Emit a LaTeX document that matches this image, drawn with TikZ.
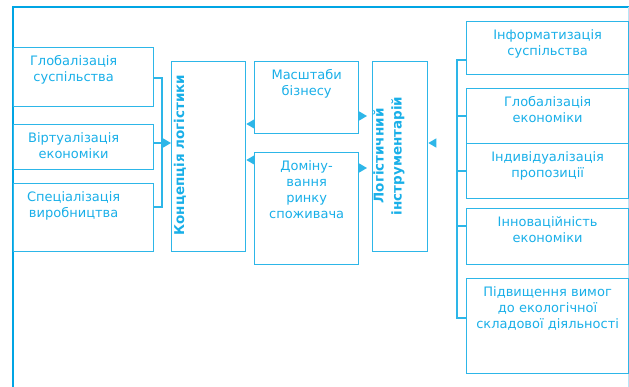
\documentclass[tikz,border=0pt]{standalone}
\usepackage{fontspec}
\setmainfont{DejaVu Sans}
\usetikzlibrary{arrows.meta}

\definecolor{lineblue}{RGB}{45,182,232}
\definecolor{frameblue}{RGB}{0,165,228}
\definecolor{textblue}{RGB}{25,175,232}

\tikzset{
  blk/.style={draw=lineblue, line width=1.3pt, inner sep=0pt, anchor=north west},
  txt/.style={text=textblue, align=center, inner sep=0pt, anchor=north,
    font=\fontsize{13}{16.3}\selectfont},
  rot/.style={text=textblue, rotate=90, align=center, inner sep=0pt,
    font=\bfseries\fontsize{13.5}{18}\selectfont},
  ln/.style={draw=lineblue, line width=1.3pt},
  arr/.style={ln, -{Triangle[length=8pt,width=9pt]}},
}
% box: name, x, y, width, height, text shift, text
\newcommand{\bx}[7]{
  \node[blk, minimum width=#4pt, minimum height=#5pt] (#1) at (#2,#3) {};
  \node[txt] (#1t) at ([xshift=#6pt, yshift=-8pt]#1.north) {#7};
}

\begin{document}
\begin{tikzpicture}[x=1pt, y=-1pt]
  \useasboundingbox (0,0) rectangle (629,387);
  % frame
  \draw[frameblue, line width=2.5pt] (13,387) -- (13,7) -- (629,7);
  \draw[lineblue!35, line width=1pt] (628.5,7) -- (628.5,387);

  % left column
  \bx{globs}{13}{47}{140}{59}{-10}{Глобалізація\\суспільства}
  \bx{virt}{13}{124}{140}{45}{-10}{Віртуалізація\\економіки}
  \bx{spec}{13}{183}{140}{68}{-10}{Спеціалізація\\виробництва}

  % middle
  \node[blk, minimum width=74pt, minimum height=190pt] (concept) at (171,61) {};
  \node[rot] (conceptt) at (180,155) {Концепція логістики};
  \bx{scale}{254}{61}{104}{72}{0}{Масштаби\\бізнесу}
  \bx{domin}{254}{152}{104}{112}{0}{Доміну-\\вання\\ринку\\споживача}
  \node[blk, minimum width=55pt, minimum height=190pt] (instr) at (372,61) {};
  \node[rot] (instrt) at (389,156) {Логістичний\\інструментарій};

  % right column
  \bx{info}{466}{21}{162}{53}{0}{Інформатизація\\суспільства}
  \bx{globe}{466}{88}{162}{55}{0}{Глобалізація\\економіки}
  \bx{indiv}{466}{143}{162}{55}{0}{Індивідуалізація\\пропозиції}
  \bx{innov}{466}{208}{162}{56}{0}{Інноваційність\\економіки}
  \bx{eco}{466}{278}{162}{95}{0}{Підвищення вимог\\до екологічної\\складової діяльності}

  % left bus
  \coordinate (lbT) at (162,78);
  \coordinate (lbM) at (162,143);
  \coordinate (lbB) at (162,207);
  \draw[ln] (lbT -| globs.east) -- (lbT) -- (lbB) -- (lbB -| spec.east);
  \draw[arr] (lbM -| virt.east) -- (lbM -| concept.west);

  % middle arrows
  \draw[arr] (scale.west |- 0,124) -- (concept.east |- 0,124);
  \draw[arr] (domin.west |- 0,160) -- (concept.east |- 0,160);
  \draw[arr, shorten >=5pt] (scale.east |- 0,116) -- (instr.west |- 0,116);
  \draw[arr, shorten >=5pt] (domin.east |- 0,168) -- (instr.west |- 0,168);

  % right bus
  \coordinate (rbT) at (457,60);
  \coordinate (rbM) at (457,143);
  \coordinate (rbB) at (457,318);
  \draw[ln] (rbT -| info.west) -- (rbT) -- (rbB) -- (rbB -| eco.west);
  \draw[ln] (rbT |- globe.west) -- (globe.west);
  \draw[ln] (rbT |- indiv.west) -- (indiv.west);
  \draw[ln] (rbT |- 0,226) -- (innov.west |- 0,226);
  \draw[arr, shorten <=22pt] (rbM) -- (rbM -| instr.east);
\end{tikzpicture}
\end{document}
